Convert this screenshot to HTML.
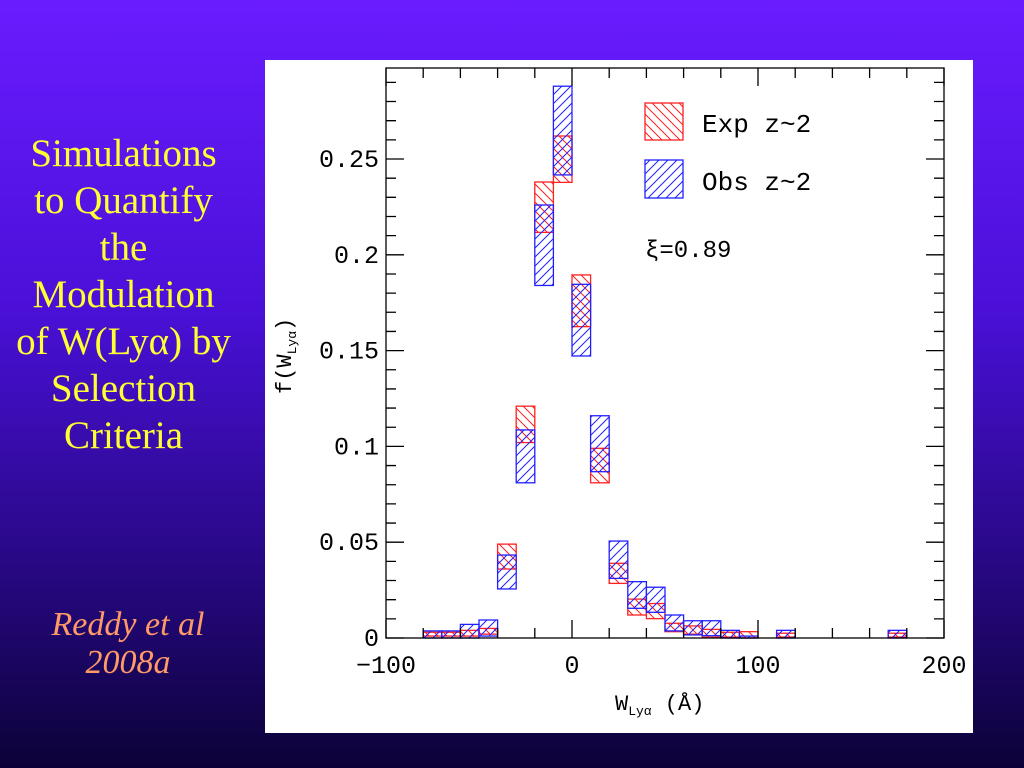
<!DOCTYPE html>
<html><head><meta charset="utf-8">
<style>
html,body{margin:0;padding:0;}
body{width:1024px;height:768px;overflow:hidden;background:linear-gradient(to bottom,#6a1cff 0%,#4a10d8 40%,#260880 75%,#0c0238 100%);position:relative;font-family:"Liberation Serif",serif;}
.t{position:absolute;left:0;width:247px;text-align:center;color:#ffff33;font-size:39px;line-height:47px;white-space:nowrap;}
.r{position:absolute;left:0;width:256px;text-align:center;color:#ff9a66;font-size:34px;font-style:italic;line-height:38px;}
#panel{position:absolute;left:265px;top:60px;width:708px;height:673px;background:#fff;}
</style></head>
<body>
<div class="t" style="top:130px">Simulations<br>to Quantify<br>the<br>Modulation<br>of W(Lyα) by<br>Selection<br>Criteria</div>
<div class="r" style="top:606px">Reddy et al<br>2008a</div>
<div id="panel"></div>
<svg id="chart" width="1024" height="768" style="position:absolute;left:0;top:0">
<defs>
<pattern id="hr" patternUnits="userSpaceOnUse" width="9" height="9"><path d="M-1,-1 L10,10 M-1,8 L1,10 M8,-1 L10,1" stroke="#ff2020" stroke-width="1"/></pattern>
<pattern id="hb" patternUnits="userSpaceOnUse" width="9" height="9"><path d="M-1,10 L10,-1 M-1,1 L1,-1 M8,10 L10,8" stroke="#2020ff" stroke-width="1"/></pattern>
</defs>
<g id="marks"></g>
<g id="axes"></g>
</svg>
<script>
const binStarts=[-80,-70,-60,-50,-40,-30,-20,-10,0,10,20,30,40,50,60,70,80,90,110,170];
const expLo=[0.001,0.001,0.001,0.002,0.036,0.102,0.2117,0.2378,0.1625,0.081,0.0285,0.012,0.0101,0.0033,0.002,0.0004,0.0005,0,0.0005,0.0005];
const expHi=[0.003,0.003,0.004,0.005,0.049,0.121,0.238,0.262,0.1895,0.099,0.039,0.0203,0.018,0.0077,0.0063,0.0045,0.003,0.0033,0.0025,0.0025];
const obsLo=[0,0,0,0.001,0.0256,0.081,0.184,0.2417,0.1472,0.0868,0.0311,0.0155,0.0134,0.0037,0.0016,0.0012,0,0,0,0];
const obsHi=[0.0037,0.0037,0.0071,0.0094,0.0433,0.1086,0.226,0.288,0.1846,0.116,0.0506,0.0294,0.0265,0.012,0.009,0.009,0.004,0.001,0.004,0.004];
const binWidth=10;
const xTickVals=[-100,0,100,200];
const xTickLabels=["\u2212100","0","100","200"];
const yTickVals=[0,0.05,0.1,0.15,0.2,0.25];
const yTickLabels=["0","0.05","0.1","0.15","0.2","0.25"];

const X0=386,X1=944,Y0=638,Y1=68;
const xMin=-100,xMax=200,yMin=0,yMax=0.2975;
function xs(v){return X0+(v-xMin)/(xMax-xMin)*(X1-X0);}
function ys(v){return Y0-(v-yMin)/(yMax-yMin)*(Y0-Y1);}
const NS="http://www.w3.org/2000/svg";
function mk(tag,attrs,parent){const e=document.createElementNS(NS,tag);for(const k in attrs)e.setAttribute(k,attrs[k]);parent.appendChild(e);return e;}
const marks=document.getElementById('marks'),axes=document.getElementById('axes');

function box(b,lo,hi,fill,stroke,name){
  const x=xs(b),w=xs(b+binWidth)-x,y=ys(hi),h=Math.max(ys(lo)-y,0.5);
  const r=mk('rect',{x:x,y:y,width:w,height:h,fill:fill,stroke:stroke,'stroke-width':1.3},marks);
  
  
}
binStarts.forEach((b,i)=>{box(b,expLo[i],expHi[i],'url(#hr)','#ff2020','exp-bar');});
binStarts.forEach((b,i)=>{box(b,obsLo[i],obsHi[i],'url(#hb)','#2020ff','obs-bar');});

const fr=mk('rect',{x:X0,y:Y1,width:X1-X0,height:Y0-Y1,fill:'none',stroke:'#000','stroke-width':1.3},axes);


let d='';
for(let v=-100;v<=200;v+=20){const x=xs(v);const L=(v%100===0)?18:10;d+=`M${x},${Y0}v${-L}M${x},${Y1}v${L}`;}
for(let k=0;k<=29;k++){const v=k*0.01;const y=ys(v);const L=(k%5===0)?18:10;d+=`M${X0},${y}h${L}M${X1},${y}h${-L}`;}
const tk=mk('path',{d:d,stroke:'#000','stroke-width':1.3,fill:'none'},axes);


const tf='font-family:"Liberation Mono",monospace;font-size:25px';
xTickVals.forEach((v,i)=>{const t=mk('text',{x:xs(v),y:673,'text-anchor':'middle',style:tf},axes);t.textContent=xTickLabels[i];

});
yTickVals.forEach((v,i)=>{const t=mk('text',{x:379,y:ys(v)+8,'text-anchor':'end',style:tf},axes);t.textContent=yTickLabels[i];

});
</script>
<svg width="1024" height="768" style="position:absolute;left:0;top:0">
<text x="615" y="710" style='font-family:"Liberation Mono",monospace;font-size:22px'>W<tspan font-size="13" dy="5">Lyα</tspan><tspan dy="-5"> (Å)</tspan></text>
<text transform="translate(291,394) rotate(-90)" style='font-family:"Liberation Mono",monospace;font-size:22px'>f(W<tspan font-size="13" dy="5">Lyα</tspan><tspan dy="-5">)</tspan></text>
<rect x="645" y="103" width="38" height="37" fill="url(#hr)" stroke="#ff2020" stroke-width="1.3"/>
<rect x="645" y="160" width="38" height="38" fill="url(#hb)" stroke="#2020ff" stroke-width="1.3"/>
<text x="702" y="132" style='font-family:"Liberation Mono",monospace;font-size:26px'>Exp z~2</text>
<text x="702" y="190" style='font-family:"Liberation Mono",monospace;font-size:26px'>Obs z~2</text>
<text x="645" y="257" style='font-family:"Liberation Mono",monospace;font-size:24px'>ξ=0.89</text>
</svg>
</body></html>
